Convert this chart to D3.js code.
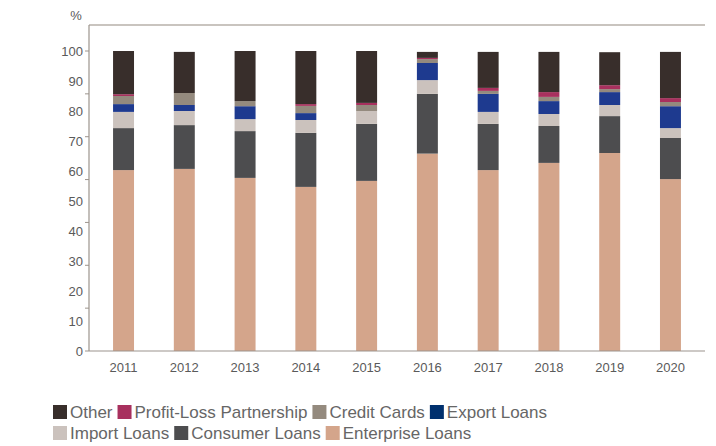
<!DOCTYPE html>
<html>
<head>
<meta charset="utf-8">
<script src="https://cdn.jsdelivr.net/npm/d3@7/dist/d3.min.js"></script>
<style>
  html, body { margin: 0; padding: 0; background: #fff; }
  svg { display: block; font-family: "Liberation Sans", Arial, sans-serif; }
</style>
</head>
<body>
<svg id="chart" width="716" height="446"></svg>
<script>
// Loan portfolio composition by year, percent of total
const years = ["2011", "2012", "2013", "2014", "2015", "2016", "2017", "2018", "2019", "2020"];
const enterpriseLoans = [60.3, 60.7, 57.7, 54.7, 56.7, 65.8, 60.3, 62.7, 66.0, 57.3];
const consumerLoans   = [14.0, 14.6, 15.6, 18.0, 19.0, 19.9, 15.4, 12.3, 12.3, 13.7];
const importLoans     = [5.4, 4.7, 4.0, 4.3, 4.3, 4.6, 4.0, 4.0, 3.7, 3.3];
const exportLoans     = [2.6, 2.0, 4.3, 2.3, 0.0, 5.7, 6.0, 4.3, 4.3, 7.3];
const creditCards     = [2.7, 4.0, 1.7, 2.4, 2.0, 1.3, 1.0, 1.4, 1.0, 1.4];
const profitLoss      = [0.6, 0.0, 0.0, 0.6, 0.7, 0.4, 1.0, 1.6, 1.3, 1.3];
const other           = [14.4, 13.7, 16.7, 17.7, 17.3, 2.0, 12.0, 13.4, 11.0, 15.4];

const seriesNames = ["Enterprise Loans", "Consumer Loans", "Import Loans", "Export Loans",
                     "Credit Cards", "Profit-Loss Partnership", "Other"];
const seriesValues = [enterpriseLoans, consumerLoans, importLoans, exportLoans,
                      creditCards, profitLoss, other];
const seriesColors = ["#d4a58b", "#4d4d4f", "#cbc2bd", "#1e3a8f", "#948a7e", "#a8305e", "#382e2b"];

const yTickLabels = [0, 10, 20, 30, 40, 50, 60, 70, 80, 90, 100];
const legendRows = [
  ["Other", "Profit-Loss Partnership", "Credit Cards", "Export Loans"],
  ["Import Loans", "Consumer Loans", "Enterprise Loans"]
];
const legendColors = {
  "Other": "#382e2b", "Profit-Loss Partnership": "#a8305e", "Credit Cards": "#948a7e",
  "Export Loans": "#00306e", "Import Loans": "#cbc2bd", "Consumer Loans": "#4d4d4f",
  "Enterprise Loans": "#d4a58b"
};

const table = years.map((y, i) => {
  const row = { year: y };
  seriesNames.forEach((s, k) => { row[s] = seriesValues[k][i]; });
  return row;
});

const svg = d3.select("#chart");
const plot = { left: 89, right: 705, top: 25, bottom: 351 };

const x = d3.scaleBand().domain(years).range([93, 701]).paddingInner(0.655).paddingOuter(0.33);
const y = d3.scaleLinear().domain([0, 100]).range([351, 51]);

const stack = d3.stack().keys(seriesNames).order(d3.stackOrderNone).offset(d3.stackOffsetNone);
const stacked = stack(table);

// frame: top rule, left and bottom axis lines
svg.append("line")
  .attr("x1", plot.left).attr("x2", plot.right)
  .attr("y1", plot.top).attr("y2", plot.top)
  .attr("stroke", "#c9c4bf").attr("stroke-width", 2);

// bars
const g = svg.append("g");
g.selectAll("g.series")
  .data(stacked)
  .join("g")
  .attr("class", "series")
  .attr("fill", (d, i) => seriesColors[i])
  .selectAll("rect")
  .data(d => d)
  .join("rect")
  .attr("x", d => x(d.data.year))
  .attr("width", x.bandwidth())
  .attr("y", d => y(d[1]))
  .attr("height", d => Math.max(0, y(d[0]) - y(d[1])));

const axisColor = "#9c948d";
svg.append("line")
  .attr("x1", plot.left).attr("x2", plot.left)
  .attr("y1", plot.top).attr("y2", plot.bottom)
  .attr("stroke", axisColor).attr("stroke-width", 1.2);
svg.append("line")
  .attr("x1", plot.left).attr("x2", plot.right)
  .attr("y1", plot.bottom).attr("y2", plot.bottom)
  .attr("stroke", axisColor).attr("stroke-width", 1.2);

// y tick marks divide the axis into seven equal steps
const tickMarks = d3.range(8).map(i => i * 100 / 7);
svg.append("g").selectAll("line")
  .data(tickMarks)
  .join("line")
  .attr("x1", plot.left - 4).attr("x2", plot.left)
  .attr("y1", d => y(d)).attr("y2", d => y(d))
  .attr("stroke", axisColor).attr("stroke-width", 1);

// y labels
svg.append("g").selectAll("text")
  .data(yTickLabels)
  .join("text")
  .attr("x", 83)
  .attr("y", d => y(d))
  .attr("dy", "0.36em")
  .attr("text-anchor", "end")
  .attr("font-size", 13)
  .attr("fill", "#5a5a5a")
  .text(d => d);

svg.append("text")
  .attr("x", 76).attr("y", 15).attr("dy", "0.36em")
  .attr("text-anchor", "middle")
  .attr("font-size", 13).attr("fill", "#5a5a5a")
  .text("%");

// x labels
const xAxis = d3.axisBottom(x).tickSize(0).tickPadding(0);
const xg = svg.append("g").attr("transform", `translate(0,${plot.bottom})`).call(xAxis);
xg.select(".domain").remove();
xg.selectAll("text")
  .attr("y", 16.5).attr("dy", "0.36em")
  .attr("font-size", 13).attr("fill", "#5a5a5a")
  .attr("font-family", "Liberation Sans, Arial, sans-serif");

// legend
const legend = svg.append("g");
const rowY = [412, 433];
legendRows.forEach((row, r) => {
  let cx = 53;
  row.forEach(name => {
    legend.append("rect")
      .attr("x", cx).attr("y", rowY[r] - 7)
      .attr("width", 14).attr("height", 14)
      .attr("fill", legendColors[name]);
    const t = legend.append("text")
      .attr("x", cx + 17).attr("y", rowY[r]).attr("dy", "0.36em")
      .attr("font-size", 17).attr("fill", "#666")
      .text(name);
    cx += 17 + t.node().getComputedTextLength() + 5;
  });
});
</script>
</body>
</html>
